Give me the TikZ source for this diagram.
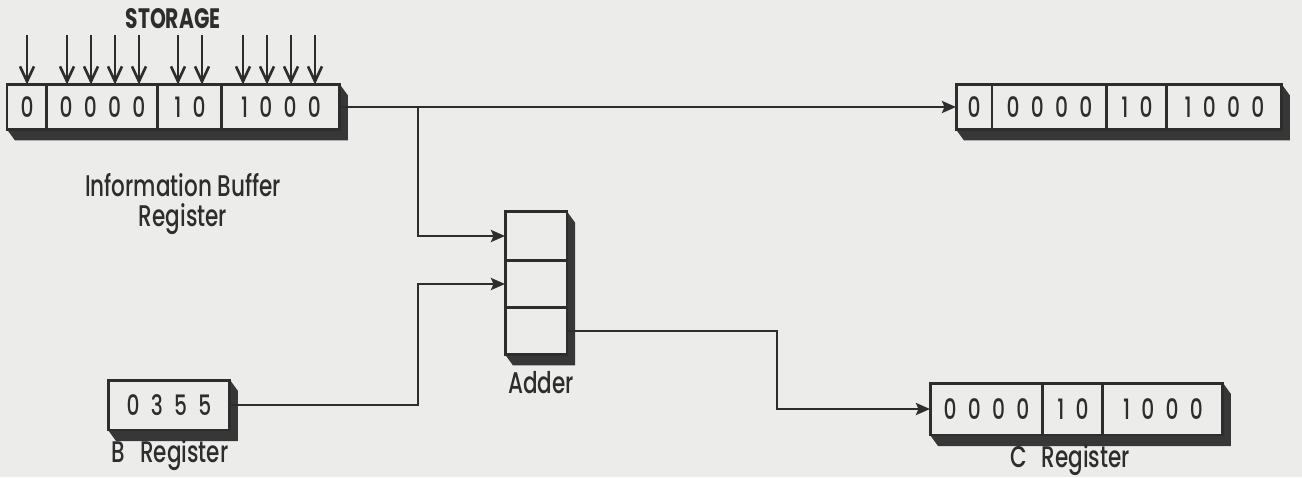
\documentclass[tikz,border=0pt]{standalone}
\usepackage{fontspec}
\setmainfont{Poppins}[UprightFont={* Medium}, BoldFont={* Bold}, FakeStretch=0.72]
\usetikzlibrary{arrows.meta, positioning, calc}
\pgfdeclarelayer{background}
\pgfsetlayers{background,main}
\definecolor{ink}{RGB}{45,45,45}
\definecolor{paper}{RGB}{236,236,234}
\definecolor{shadowgray}{RGB}{55,55,55}
\newcommand{\digfont}{\fontsize{16}{18}\selectfont\spaceskip=6.4pt\relax}
\newcommand{\labfont}{\fontsize{17}{17}\selectfont}

\begin{document}
\begin{tikzpicture}[x=0.02cm, y=-0.02cm,
  cell/.style={draw=ink, fill=paper, line width=1.7pt, inner sep=0pt, outer sep=0pt,
    minimum height=0.9cm, font=\digfont, text=ink},
  lbl/.style={font=\labfont, text=ink, align=center, inner sep=0pt},
  conn/.style={draw=ink, line width=1.5pt},
  tip/.style={-{Stealth[length=2.8mm, width=2.4mm, inset=0.5mm]}},
  feed/.style={draw=ink, line width=1.5pt, -{Straight Barb[length=3mm, width=2.8mm]}}
]
\useasboundingbox (0,0) rectangle (1302,477);

% information buffer register
\node[cell, minimum width=0.8cm, anchor=west] (ib1) at (7,107) {0};
\node[cell, minimum width=2.22cm, right=0pt of ib1] (ib2) {0 0 0 0};
\node[cell, minimum width=1.28cm, right=0pt of ib2] (ib3) {1 0};
\node[cell, minimum width=2.36cm, right=0pt of ib3] (ib4) {1 0 0 0};
\node[lbl] (iblab) at (183,204) {Information Buffer\\Register};

\node[lbl, font=\fontsize{16}{18}\selectfont\bfseries] (stor) at (173,19) {STORAGE};
\coordinate (feedtop) at (0,35);
\foreach \x in {27,67,91,115,139,178,202,243,267,291,315}
  \draw[feed] (\x,0 |- feedtop) -- (\x,0 |- ib1.north);

% copy in storage
\node[cell, minimum width=0.72cm, anchor=west] (o1) at (956,107) {0};
\node[cell, minimum width=2.3cm, right=0pt of o1] (o2) {0 0 0 0};
\node[cell, minimum width=1.2cm, right=0pt of o2] (o3) {1 0};
\node[cell, minimum width=2.3cm, right=0pt of o3] (o4) {1 0 0 0};

% adder
\node[cell, minimum width=1.24cm, minimum height=0.98cm] (add1) at (536,236) {};
\node[cell, minimum width=1.24cm, minimum height=0.94cm, below=0pt of add1] (add2) {};
\node[cell, minimum width=1.24cm, minimum height=0.94cm, below=0pt of add2] (add3) {};
\node[lbl] (addlab) at (541,383) {Adder};

% B and C registers
\node[cell, minimum width=2.44cm, minimum height=1cm] (b1) at (169,405) {0 3 5 5};
\node[lbl] (blab) at (170,455) {B\enspace Register};

\node[cell, minimum width=2.26cm, minimum height=1.04cm, anchor=west] (c1) at (930,409) {0 0 0 0};
\node[cell, minimum width=1.2cm, minimum height=1.04cm, right=0pt of c1] (c2) {1 0};
\node[cell, minimum width=2.4cm, minimum height=1.04cm, right=0pt of c2] (c3) {1 0 0 0};
\node[lbl] (clab) at (1070,460) {C\enspace Register};

% lines
\coordinate (br) at (418,0);
\coordinate (jc) at (777,0);
\draw[conn, tip] (ib4.east) -- (o1.west);
\draw[conn, tip] (br |- ib4.east) |- (add1.west);
\draw[conn, tip] (b1.east) -| (br |- add2.west) -- (add2.west);
\draw[conn, tip] (add3.east) -| (jc |- c1.west) -- (c1.west);

% paper and shadows
\begin{pgfonlayer}{background}
\fill[paper] (0,0) rectangle (1302,477);
\foreach \p/\q/\r in {ib1/ib4/ib4, o1/o4/o4, c1/c3/c3, b1/b1/b1, add3/add3/add1}
  \fill[shadowgray] (\p.south west) -- ++(8,11) -- ($(\q.south east)+(8,11)$)
    -- ($(\r.north east)+(8,11)$) -- (\r.north east) -- cycle;
\end{pgfonlayer}
\end{tikzpicture}
\end{document}
